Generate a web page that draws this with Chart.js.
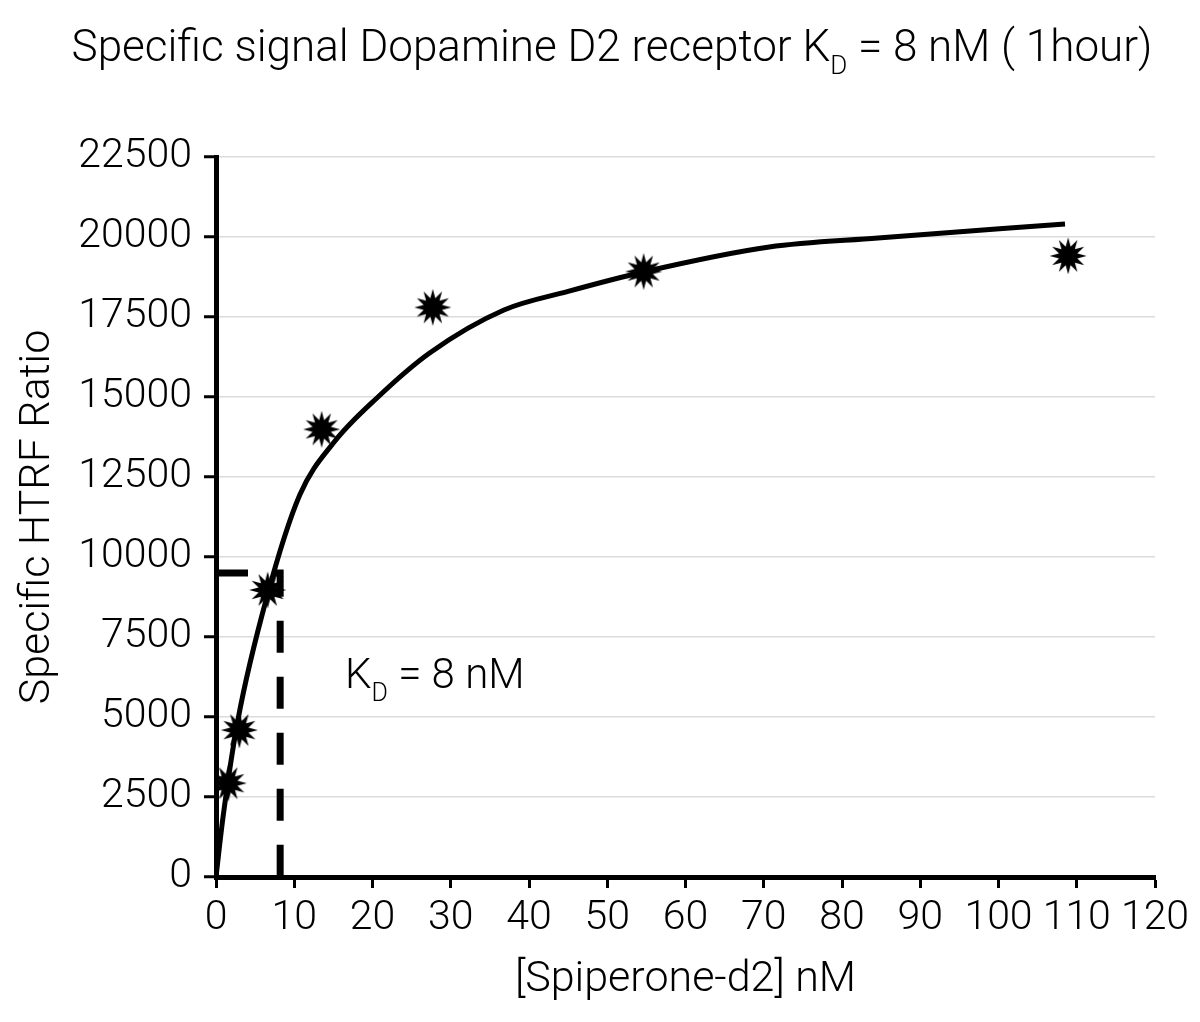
<!DOCTYPE html>
<html>
<head>
<meta charset="utf-8">
<script src="https://cdn.jsdelivr.net/npm/chart.js@4.4.1/dist/chart.umd.min.js"></script>
<style>
  html, body { margin: 0; padding: 0; background: white; }
  #wrap { width: 1200px; height: 1022px; }
</style>
</head>
<body>
<div id="wrap"><canvas id="kdChart" width="1200" height="1022"></canvas></div>
<script>
// measured points (stars)
var concentration = [1.57, 2.98, 6.6, 13.5, 27.7, 54.65, 108.9];
var specificSignal = [2930, 4590, 8970, 13990, 17800, 18920, 19410];

// fitted saturation curve
var fitX = [0, 0.9, 2.8, 6.5, 10.7, 15, 20.7, 27.3, 36.8, 45, 54.6, 70.7, 84.6, 108.5];
var fitY = [0, 1875, 4906, 8750, 11937, 13562, 15000, 16375, 17719, 18300, 18906, 19687, 19969, 20406];

// dashed KD guide
var kdX = [0, 8.2, 8.2];
var kdY = [9500, 9500, 0];

var yTicks = [0, 2500, 5000, 7500, 10000, 12500, 15000, 17500, 20000, 22500];
var xTicks = [0, 10, 20, 30, 40, 50, 60, 70, 80, 90, 100, 110, 120];

var FONT = 'Roboto, "DejaVu Sans Condensed", sans-serif';
var WEIGHT = '300';

function toPoints(xs, ys) {
	return xs.map(function (x, i) { return { x: x, y: ys[i] }; });
}

// star burst marker
function makeStar() {
	var c = document.createElement('canvas');
	c.width = 40; c.height = 40;
	var g = c.getContext('2d');
	var spikes = 12, outer = 18.5, inner = 9.5;
	g.beginPath();
	for (var i = 0; i < spikes * 2; i++) {
		var r = (i % 2 === 0) ? outer : inner;
		var a = Math.PI * i / spikes - Math.PI / 2;
		var px = 20 + r * Math.cos(a), py = 20 + r * Math.sin(a);
		if (i === 0) g.moveTo(px, py); else g.lineTo(px, py);
	}
	g.closePath();
	g.fillStyle = 'black';
	g.fill();
	return c;
}

// text with a subscript D after the K
function drawKD(ctx, parts, x, y, size, align) {
	var subSize = Math.round(size * 0.6);
	var big = WEIGHT + ' ' + size + 'px ' + FONT;
	var small = WEIGHT + ' ' + subSize + 'px ' + FONT;
	ctx.font = big;
	var w0 = ctx.measureText(parts[0]).width;
	var w2 = ctx.measureText(parts[2]).width;
	ctx.font = small;
	var w1 = ctx.measureText(parts[1]).width;
	var total = w0 + w1 + w2;
	var sx = align === 'center' ? x - total / 2 : x;
	ctx.fillStyle = 'black';
	ctx.textAlign = 'left';
	ctx.textBaseline = 'alphabetic';
	ctx.font = big;
	ctx.fillText(parts[0], sx, y);
	ctx.font = small;
	ctx.fillText(parts[1], sx + w0, y + size * 0.3);
	ctx.font = big;
	ctx.fillText(parts[2], sx + w0 + w1, y);
}

var textPlugin = {
	id: 'textPlugin',
	beforeDraw: function (chart) {
		var ctx = chart.ctx;
		ctx.save();
		ctx.fillStyle = 'white';
		ctx.fillRect(0, 0, chart.width, chart.height);
		ctx.restore();
	},
	afterDraw: function (chart) {
		var ctx = chart.ctx;
		ctx.save();
		drawKD(ctx, ['Specific signal Dopamine D2 receptor K', 'D', ' = 8 nM ( 1hour)'], 612, 61, 44, 'center');
		drawKD(ctx, ['K', 'D', ' = 8 nM'], 345, 688, 42, 'left');
		ctx.restore();
	}
};

var tickFont = { family: FONT, size: 41, weight: WEIGHT };
var titleFont = { family: FONT, size: 43, weight: WEIGHT };

var ctx = document.getElementById('kdChart').getContext('2d');
var kdChart = new Chart(ctx, {
	type: 'scatter',
	data: {
		datasets: [{
			label: 'Specific signal',
			data: toPoints(concentration, specificSignal),
			pointStyle: makeStar(),
			pointRadius: 20,
			showLine: false,
			order: 1
		}, {
			label: 'Fit',
			data: toPoints(fitX, fitY),
			showLine: true,
			borderColor: 'black',
			borderWidth: 5,
			pointRadius: 0,
			cubicInterpolationMode: 'monotone',
			order: 2
		}, {
			label: 'KD',
			data: toPoints(kdX, kdY),
			showLine: true,
			borderColor: 'black',
			borderWidth: 7,
			borderDash: [32, 24],
			pointRadius: 0,
			tension: 0,
			order: 3
		}]
	},
	options: {
		responsive: false,
		animation: false,
		layout: { padding: { top: 157, right: 45, left: 0, bottom: 0 } },
		plugins: {
			legend: { display: false },
			tooltip: { enabled: false }
		},
		scales: {
			x: {
				type: 'linear',
				min: 0,
				max: 120,
				afterBuildTicks: function (scale) {
					scale.ticks = xTicks.map(function (v) { return { value: v }; });
				},
				border: { color: 'black', width: 5 },
				grid: { drawOnChartArea: false, color: 'black', tickColor: 'black', tickLength: 11, tickWidth: 3 },
				ticks: {
					color: 'black', font: tickFont, padding: 6, maxRotation: 0, autoSkip: false,
					callback: function (v) { return String(v); }
				},
				title: { display: true, text: '[Spiperone-d2] nM', color: 'black', font: titleFont, padding: { top: 4, bottom: 16 } },
				afterFit: function (scale) { scale.height = 145; }
			},
			y: {
				type: 'linear',
				min: 0,
				max: 22500,
				afterBuildTicks: function (scale) {
					scale.ticks = yTicks.map(function (v) { return { value: v }; });
				},
				border: { color: 'black', width: 5 },
				grid: { color: '#dcdcdc', lineWidth: 1.5, tickColor: 'black', tickLength: 12, tickWidth: 3 },
				ticks: {
					color: 'black', font: tickFont, padding: 12, autoSkip: false,
					callback: function (v) { return String(v); }
				},
				title: { display: true, text: 'Specific HTRF Ratio', color: 'black', font: titleFont, padding: { top: 12, bottom: 0 } },
				afterFit: function (scale) { scale.width = 216; }
			}
		}
	},
	plugins: [textPlugin]
});
</script>
</body>
</html>
